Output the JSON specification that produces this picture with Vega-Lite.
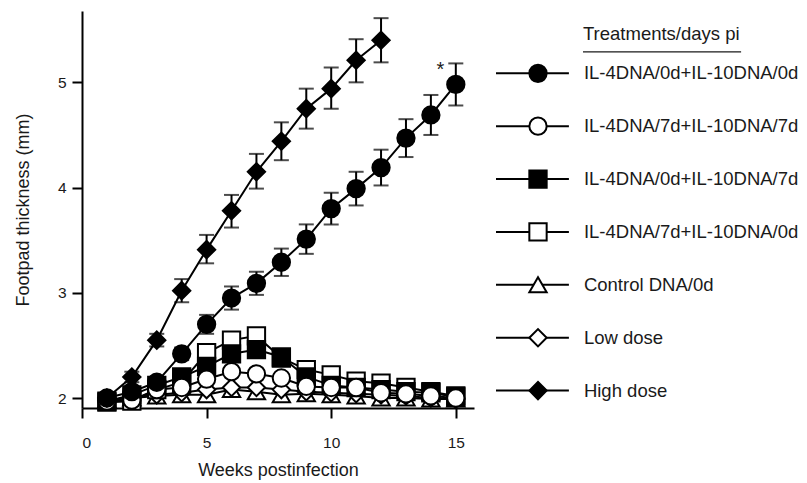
{
  "$schema": "https://vega.github.io/schema/vega-lite/v6.json",
  "padding": {"left": 14, "top": 11, "right": 0, "bottom": 0},
  "config": {
    "view": {"stroke": null},
    "font": "Liberation Sans",
    "axis": {
      "grid": false,
      "domainColor": "black",
      "domainWidth": 2,
      "tickColor": "black",
      "tickWidth": 2,
      "tickSize": 10,
      "labelFont": "Liberation Sans",
      "labelFontSize": 15.5,
      "labelColor": "#1a1a1a",
      "titleFont": "Liberation Sans",
      "titleFontSize": 18,
      "titleFontWeight": "normal",
      "titleColor": "#1a1a1a"
    }
  },
  "datasets": {
    "main": [
      {"series": "Control DNA/0d", "week": 1, "y": 1.98},
      {"series": "Control DNA/0d", "week": 2, "y": 2.0},
      {"series": "Control DNA/0d", "week": 3, "y": 2.02},
      {"series": "Control DNA/0d", "week": 4, "y": 2.03},
      {"series": "Control DNA/0d", "week": 5, "y": 2.03},
      {"series": "Control DNA/0d", "week": 6, "y": 2.08},
      {"series": "Control DNA/0d", "week": 7, "y": 2.06},
      {"series": "Control DNA/0d", "week": 8, "y": 2.03},
      {"series": "Control DNA/0d", "week": 9, "y": 2.04},
      {"series": "Control DNA/0d", "week": 10, "y": 2.03},
      {"series": "Control DNA/0d", "week": 11, "y": 2.02},
      {"series": "Control DNA/0d", "week": 12, "y": 2.0},
      {"series": "Control DNA/0d", "week": 13, "y": 2.0},
      {"series": "Control DNA/0d", "week": 14, "y": 1.99},
      {"series": "Control DNA/0d", "week": 15, "y": 1.99},
      {"series": "Low dose", "week": 1, "y": 1.98},
      {"series": "Low dose", "week": 2, "y": 2.0},
      {"series": "Low dose", "week": 3, "y": 2.03},
      {"series": "Low dose", "week": 4, "y": 2.05},
      {"series": "Low dose", "week": 5, "y": 2.08},
      {"series": "Low dose", "week": 6, "y": 2.1},
      {"series": "Low dose", "week": 7, "y": 2.1},
      {"series": "Low dose", "week": 8, "y": 2.08},
      {"series": "Low dose", "week": 9, "y": 2.06},
      {"series": "Low dose", "week": 10, "y": 2.05},
      {"series": "Low dose", "week": 11, "y": 2.04},
      {"series": "Low dose", "week": 12, "y": 2.03},
      {"series": "Low dose", "week": 13, "y": 2.02},
      {"series": "Low dose", "week": 14, "y": 2.0},
      {"series": "Low dose", "week": 15, "y": 1.99},
      {"series": "IL-4DNA/7d+IL-10DNA/0d", "week": 1, "y": 1.96},
      {"series": "IL-4DNA/7d+IL-10DNA/0d", "week": 2, "y": 1.97},
      {"series": "IL-4DNA/7d+IL-10DNA/0d", "week": 3, "y": 2.08},
      {"series": "IL-4DNA/7d+IL-10DNA/0d", "week": 4, "y": 2.15},
      {"series": "IL-4DNA/7d+IL-10DNA/0d", "week": 5, "y": 2.43},
      {"series": "IL-4DNA/7d+IL-10DNA/0d", "week": 6, "y": 2.55},
      {"series": "IL-4DNA/7d+IL-10DNA/0d", "week": 7, "y": 2.59},
      {"series": "IL-4DNA/7d+IL-10DNA/0d", "week": 8, "y": 2.38},
      {"series": "IL-4DNA/7d+IL-10DNA/0d", "week": 9, "y": 2.27},
      {"series": "IL-4DNA/7d+IL-10DNA/0d", "week": 10, "y": 2.22},
      {"series": "IL-4DNA/7d+IL-10DNA/0d", "week": 11, "y": 2.16},
      {"series": "IL-4DNA/7d+IL-10DNA/0d", "week": 12, "y": 2.14},
      {"series": "IL-4DNA/7d+IL-10DNA/0d", "week": 13, "y": 2.1},
      {"series": "IL-4DNA/7d+IL-10DNA/0d", "week": 14, "y": 2.06},
      {"series": "IL-4DNA/7d+IL-10DNA/0d", "week": 15, "y": 2.02},
      {"series": "IL-4DNA/0d+IL-10DNA/7d", "week": 1, "y": 1.97},
      {"series": "IL-4DNA/0d+IL-10DNA/7d", "week": 2, "y": 2.03},
      {"series": "IL-4DNA/0d+IL-10DNA/7d", "week": 3, "y": 2.12},
      {"series": "IL-4DNA/0d+IL-10DNA/7d", "week": 4, "y": 2.2},
      {"series": "IL-4DNA/0d+IL-10DNA/7d", "week": 5, "y": 2.3},
      {"series": "IL-4DNA/0d+IL-10DNA/7d", "week": 6, "y": 2.42},
      {"series": "IL-4DNA/0d+IL-10DNA/7d", "week": 7, "y": 2.46},
      {"series": "IL-4DNA/0d+IL-10DNA/7d", "week": 8, "y": 2.39},
      {"series": "IL-4DNA/0d+IL-10DNA/7d", "week": 9, "y": 2.2},
      {"series": "IL-4DNA/0d+IL-10DNA/7d", "week": 10, "y": 2.12},
      {"series": "IL-4DNA/0d+IL-10DNA/7d", "week": 11, "y": 2.1},
      {"series": "IL-4DNA/0d+IL-10DNA/7d", "week": 12, "y": 2.08},
      {"series": "IL-4DNA/0d+IL-10DNA/7d", "week": 13, "y": 2.06},
      {"series": "IL-4DNA/0d+IL-10DNA/7d", "week": 14, "y": 2.05},
      {"series": "IL-4DNA/0d+IL-10DNA/7d", "week": 15, "y": 2.01},
      {"series": "IL-4DNA/7d+IL-10DNA/7d", "week": 1, "y": 1.97},
      {"series": "IL-4DNA/7d+IL-10DNA/7d", "week": 2, "y": 1.98},
      {"series": "IL-4DNA/7d+IL-10DNA/7d", "week": 3, "y": 2.08},
      {"series": "IL-4DNA/7d+IL-10DNA/7d", "week": 4, "y": 2.1},
      {"series": "IL-4DNA/7d+IL-10DNA/7d", "week": 5, "y": 2.18},
      {"series": "IL-4DNA/7d+IL-10DNA/7d", "week": 6, "y": 2.25},
      {"series": "IL-4DNA/7d+IL-10DNA/7d", "week": 7, "y": 2.23},
      {"series": "IL-4DNA/7d+IL-10DNA/7d", "week": 8, "y": 2.19},
      {"series": "IL-4DNA/7d+IL-10DNA/7d", "week": 9, "y": 2.11},
      {"series": "IL-4DNA/7d+IL-10DNA/7d", "week": 10, "y": 2.1},
      {"series": "IL-4DNA/7d+IL-10DNA/7d", "week": 11, "y": 2.1},
      {"series": "IL-4DNA/7d+IL-10DNA/7d", "week": 12, "y": 2.05},
      {"series": "IL-4DNA/7d+IL-10DNA/7d", "week": 13, "y": 2.04},
      {"series": "IL-4DNA/7d+IL-10DNA/7d", "week": 14, "y": 2.02},
      {"series": "IL-4DNA/7d+IL-10DNA/7d", "week": 15, "y": 2.0},
      {"series": "IL-4DNA/0d+IL-10DNA/0d", "week": 1, "y": 2.0, "lo": 1.97, "hi": 2.03},
      {"series": "IL-4DNA/0d+IL-10DNA/0d", "week": 2, "y": 2.06, "lo": 2.02, "hi": 2.1},
      {"series": "IL-4DNA/0d+IL-10DNA/0d", "week": 3, "y": 2.15, "lo": 2.1, "hi": 2.2},
      {"series": "IL-4DNA/0d+IL-10DNA/0d", "week": 4, "y": 2.42, "lo": 2.36, "hi": 2.48},
      {"series": "IL-4DNA/0d+IL-10DNA/0d", "week": 5, "y": 2.7, "lo": 2.61, "hi": 2.79},
      {"series": "IL-4DNA/0d+IL-10DNA/0d", "week": 6, "y": 2.95, "lo": 2.84, "hi": 3.06},
      {"series": "IL-4DNA/0d+IL-10DNA/0d", "week": 7, "y": 3.09, "lo": 2.98, "hi": 3.2},
      {"series": "IL-4DNA/0d+IL-10DNA/0d", "week": 8, "y": 3.29, "lo": 3.16, "hi": 3.42},
      {"series": "IL-4DNA/0d+IL-10DNA/0d", "week": 9, "y": 3.51, "lo": 3.37, "hi": 3.65},
      {"series": "IL-4DNA/0d+IL-10DNA/0d", "week": 10, "y": 3.8, "lo": 3.65, "hi": 3.95},
      {"series": "IL-4DNA/0d+IL-10DNA/0d", "week": 11, "y": 3.99, "lo": 3.83, "hi": 4.15},
      {"series": "IL-4DNA/0d+IL-10DNA/0d", "week": 12, "y": 4.19, "lo": 4.02, "hi": 4.36},
      {"series": "IL-4DNA/0d+IL-10DNA/0d", "week": 13, "y": 4.47, "lo": 4.29, "hi": 4.65},
      {"series": "IL-4DNA/0d+IL-10DNA/0d", "week": 14, "y": 4.69, "lo": 4.5, "hi": 4.88},
      {"series": "IL-4DNA/0d+IL-10DNA/0d", "week": 15, "y": 4.98, "lo": 4.78, "hi": 5.18},
      {"series": "High dose", "week": 1, "y": 2.0, "lo": 1.97, "hi": 2.03},
      {"series": "High dose", "week": 2, "y": 2.2, "lo": 2.15, "hi": 2.25},
      {"series": "High dose", "week": 3, "y": 2.55, "lo": 2.49, "hi": 2.61},
      {"series": "High dose", "week": 4, "y": 3.02, "lo": 2.91, "hi": 3.13},
      {"series": "High dose", "week": 5, "y": 3.41, "lo": 3.28, "hi": 3.55},
      {"series": "High dose", "week": 6, "y": 3.78, "lo": 3.62, "hi": 3.93},
      {"series": "High dose", "week": 7, "y": 4.15, "lo": 3.99, "hi": 4.32},
      {"series": "High dose", "week": 8, "y": 4.44, "lo": 4.26, "hi": 4.62},
      {"series": "High dose", "week": 9, "y": 4.75, "lo": 4.56, "hi": 4.94},
      {"series": "High dose", "week": 10, "y": 4.94, "lo": 4.75, "hi": 5.14},
      {"series": "High dose", "week": 11, "y": 5.21, "lo": 5.0, "hi": 5.41},
      {"series": "High dose", "week": 12, "y": 5.4, "lo": 5.19, "hi": 5.61}
    ],
    "note": [
      {"week": 14.38, "y": 5.06, "label": "*"}
    ],
    "legend": [
      {"series": "Treatments/days pi", "kind": "title"},
      {"series": "IL-4DNA/0d+IL-10DNA/0d", "kind": "item"},
      {"series": "IL-4DNA/7d+IL-10DNA/7d", "kind": "item"},
      {"series": "IL-4DNA/0d+IL-10DNA/7d", "kind": "item"},
      {"series": "IL-4DNA/7d+IL-10DNA/0d", "kind": "item"},
      {"series": "Control DNA/0d", "kind": "item"},
      {"series": "Low dose", "kind": "item"},
      {"series": "High dose", "kind": "item"}
    ]
  },
  "hconcat": [
    {
      "width": 392,
      "height": 397,
      "layer": [
        {
          "data": {"name": "main"},
          "mark": {"type": "line", "color": "black", "strokeWidth": 2},
          "encoding": {
            "x": {"field": "week", "type": "quantitative", "scale": {"domain": [0, 15.73], "nice": false, "zero": false}, "axis": {"values": [0, 5, 10, 15], "format": "d", "title": "Weeks postinfection", "labelPadding": 17, "titlePadding": 11}},
            "y": {"field": "y", "type": "quantitative", "title": "Footpad thickness (mm)", "scale": {"domain": [1.905, 5.678], "nice": false, "zero": false}, "axis": {"values": [2, 3, 4, 5], "format": "d", "labelPadding": 6, "titlePadding": 25}},
            "detail": {"field": "series"}
          }
        },
        {
          "data": {"name": "main"},
          "transform": [{"filter": "isValid(datum.lo)"}],
          "mark": {"type": "errorbar", "color": "black", "ticks": {"size": 15, "thickness": 2, "color": "black"}, "rule": {"strokeWidth": 2, "color": "black"}},
          "encoding": {
            "x": {"field": "week", "type": "quantitative"},
            "y": {"field": "lo", "type": "quantitative", "title": "Footpad thickness (mm)"},
            "y2": {"field": "hi"}
          }
        },
        {
          "data": {"name": "main"},
          "mark": {"type": "point", "filled": true, "stroke": "black", "strokeWidth": 2, "opacity": 1},
          "encoding": {
            "x": {"field": "week", "type": "quantitative"},
            "y": {"field": "y", "type": "quantitative", "title": "Footpad thickness (mm)"},
            "shape": {"field": "series", "type": "nominal", "legend": null, "scale": {"domain": ["IL-4DNA/0d+IL-10DNA/0d", "IL-4DNA/7d+IL-10DNA/7d", "IL-4DNA/0d+IL-10DNA/7d", "IL-4DNA/7d+IL-10DNA/0d", "Control DNA/0d", "Low dose", "High dose"], "range": ["circle", "circle", "square", "square", "triangle-up", "diamond", "diamond"]}},
            "fill": {"field": "series", "type": "nominal", "legend": null, "scale": {"domain": ["IL-4DNA/0d+IL-10DNA/0d", "IL-4DNA/7d+IL-10DNA/7d", "IL-4DNA/0d+IL-10DNA/7d", "IL-4DNA/7d+IL-10DNA/0d", "Control DNA/0d", "Low dose", "High dose"], "range": ["black", "white", "black", "white", "white", "white", "black"]}},
            "size": {"field": "series", "type": "nominal", "legend": null, "scale": {"domain": ["IL-4DNA/0d+IL-10DNA/0d", "IL-4DNA/7d+IL-10DNA/7d", "IL-4DNA/0d+IL-10DNA/7d", "IL-4DNA/7d+IL-10DNA/0d", "Control DNA/0d", "Low dose", "High dose"], "range": [300, 300, 290, 290, 340, 420, 420]}}
          }
        },
        {
          "data": {"name": "note"},
          "mark": {"type": "text", "fontSize": 20, "font": "Liberation Sans", "color": "#1a1a1a", "baseline": "alphabetic", "align": "center"},
          "encoding": {
            "x": {"field": "week", "type": "quantitative"},
            "y": {"field": "y", "type": "quantitative"},
            "text": {"field": "label"}
          }
        }
      ]
    },
    {
      "width": 300,
      "height": 389,
      "data": {"name": "legend"},
      "encoding": {
        "y": {"field": "series", "type": "nominal", "axis": null, "sort": null, "scale": {"type": "point", "padding": 0.178, "domain": ["Treatments/days pi", "IL-4DNA/0d+IL-10DNA/0d", "IL-4DNA/7d+IL-10DNA/7d", "IL-4DNA/0d+IL-10DNA/7d", "IL-4DNA/7d+IL-10DNA/0d", "Control DNA/0d", "Low dose", "High dose"]}}
      },
      "layer": [
        {
          "transform": [{"filter": "datum.kind == 'item'"}],
          "mark": {"type": "rule", "color": "black", "strokeWidth": 2},
          "encoding": {
            "x": {"datum": 0, "type": "quantitative", "scale": {"domain": [0, 100], "nice": false}, "axis": null},
            "x2": {"datum": 24.3}
          }
        },
        {
          "transform": [{"filter": "datum.kind == 'item'"}],
          "mark": {"type": "point", "filled": true, "stroke": "black", "strokeWidth": 2, "opacity": 1},
          "encoding": {
            "x": {"datum": 14, "type": "quantitative"},
            "shape": {"field": "series", "type": "nominal", "legend": null},
            "fill": {"field": "series", "type": "nominal", "legend": null},
            "size": {"field": "series", "type": "nominal", "legend": null}
          }
        },
        {
          "transform": [{"filter": "datum.kind == 'item'"}],
          "mark": {"type": "text", "align": "left", "baseline": "middle", "fontSize": 18.5, "font": "Liberation Sans", "color": "#1a1a1a"},
          "encoding": {
            "x": {"datum": 29.3, "type": "quantitative"},
            "text": {"field": "series"}
          }
        },
        {
          "transform": [{"filter": "datum.kind == 'title'"}],
          "mark": {"type": "text", "align": "left", "baseline": "middle", "fontSize": 18.5, "font": "Liberation Sans", "color": "#1a1a1a", "yOffset": 14},
          "encoding": {
            "x": {"datum": 29, "type": "quantitative"},
            "text": {"field": "series"}
          }
        },
        {
          "transform": [{"filter": "datum.kind == 'title'"}],
          "mark": {"type": "rule", "color": "#1a1a1a", "strokeWidth": 1.2, "yOffset": 31.5},
          "encoding": {
            "x": {"datum": 29, "type": "quantitative"},
            "x2": {"datum": 81.7}
          }
        }
      ]
    }
  ],
  "spacing": 21,
  "resolve": {"scale": {"x": "independent", "y": "independent"}}
}
